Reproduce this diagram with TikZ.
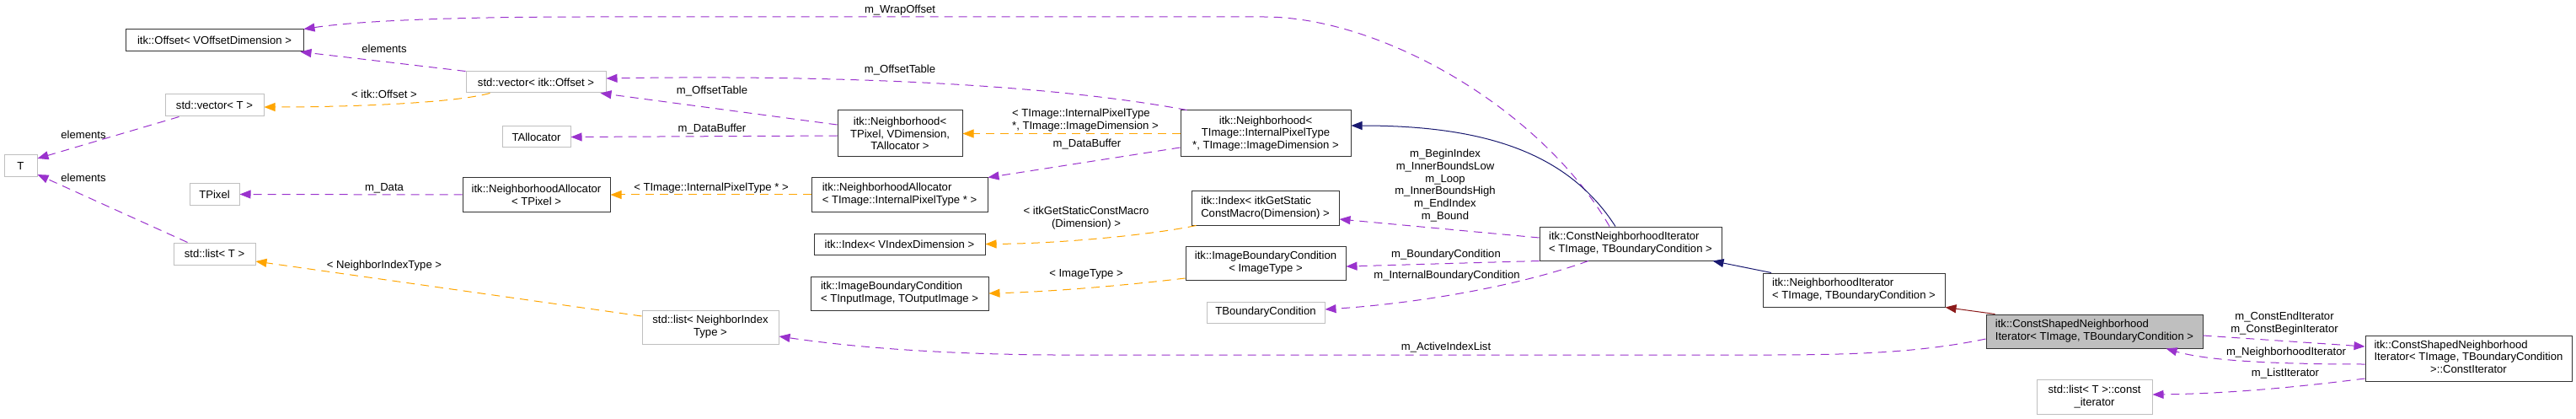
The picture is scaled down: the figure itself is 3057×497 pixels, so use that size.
\documentclass[tikz,border=0pt]{standalone}
\usepackage{fontspec}
\setmainfont{Liberation Sans}
\usepackage{tikz}
\usetikzlibrary{arrows.meta}
\definecolor{edgeuse}{HTML}{9A32CD}
\definecolor{edgetpl}{HTML}{FFA500}
\definecolor{edgeinh}{HTML}{191970}
\definecolor{edgepriv}{HTML}{8B1A1A}
\definecolor{extgray}{HTML}{BFBFBF}
\newcommand{\dxfont}{\fontsize{13.1}{14.8}\selectfont}

\begin{document}
\begin{tikzpicture}[x=1pt,y=-1pt,
    cls/.style={draw=black!80,line width=1pt,fill=white,font=\dxfont,inner sep=0pt},
    ext/.style={draw=extgray,line width=1pt,fill=white,font=\dxfont,inner sep=0pt},
    cur/.style={cls,fill=extgray},
    sz/.style 2 args={minimum width=#1,minimum height=#2},
    lbl/.style={font=\dxfont,inner sep=0pt,align=center},
    usage/.style={edgeuse,line width=1pt,dash pattern=on 10pt off 7pt,-{Triangle[length=13pt,width=10pt]}},
    tmpl/.style={usage,edgetpl},
    inherit/.style={edgeinh,line width=1pt,-{Triangle[length=13pt,width=10pt]}}]
    \useasboundingbox (0,0) rectangle (3057,497);
    % ===== left columns =====
    \node[cls,sz={211pt}{26pt}] (offset) at (254.5,48) {itk::Offset< VOffsetDimension >};
    \node[ext,sz={117pt}{26pt}] (vect) at (254.5,125) {std::vector< T >};
    \node[ext,sz={39pt}{26pt}] (tT) at (24.5,197) {T};
    \node[ext,sz={59pt}{25pt}] (tpixel) at (254.5,230.5) {TPixel};
    \node[ext,sz={97pt}{26pt}] (listT) at (254.5,301) {std::list< T >};
    \node[ext,sz={166pt}{25pt}] (vecoff) at (636,97.5) {std::vector< itk::Offset >};
    \node[ext,sz={81pt}{25pt}] (talloc) at (636.5,162.5) {TAllocator};
    \node[cls,sz={175pt}{40pt},align=center] (nalloc) at (636.5,231) {itk::NeighborhoodAllocator\\< TPixel >};
    \node[ext,sz={162pt}{40pt},align=center] (listnit) at (843,388) {std::list< NeighborIndex\\Type >};
    % ===== middle columns =====
    \node[cls,sz={148pt}{55pt},align=center] (nbhd) at (1068,158.5) {itk::Neighborhood<\\TPixel, VDimension,\\TAllocator >};
    \node[cls,sz={209pt}{40pt},align=left] (nallocint) at (1067.5,231) {itk::NeighborhoodAllocator\\< TImage::InternalPixelType * >};
    \node[cls,sz={203pt}{25pt}] (idxvec) at (1067.5,289.5) {itk::Index< VIndexDimension >};
    \node[cls,sz={211pt}{40pt},align=left] (ibcin) at (1067.5,348) {itk::ImageBoundaryCondition\\< TInputImage, TOutputImage >};
    \node[cls,sz={202pt}{55pt},align=center] (nbhdint) at (1502,158.5) {itk::Neighborhood<\\TImage::InternalPixelType\\*, TImage::ImageDimension >};
    \node[cls,sz={175pt}{40pt},align=left] (idxstat) at (1501.5,247) {itk::Index< itkGetStatic\\ConstMacro(Dimension) >};
    \node[cls,sz={190pt}{40pt},align=center] (ibcimg) at (1502,312) {itk::ImageBoundaryCondition\\< ImageType >};
    \node[ext,sz={140pt}{25pt}] (tbc) at (1502,370.5) {TBoundaryCondition};
    % ===== iterators =====
    \node[cls,sz={216pt}{40pt},align=left] (cnit) at (1935,289) {itk::ConstNeighborhoodIterator\\< TImage, TBoundaryCondition >};
    \node[cls,sz={216pt}{40pt},align=left] (nit) at (2200,344) {itk::NeighborhoodIterator\\< TImage, TBoundaryCondition >};
    \node[cur,sz={257pt}{40pt},align=left] (csnit) at (2485.5,393) {itk::ConstShapedNeighborhood\\Iterator< TImage, TBoundaryCondition >};
    \node[ext,sz={137pt}{41pt},align=center] (listcit) at (2485.5,470.5) {std::list< T >::const\\\_iterator};
    \node[cls,sz={245pt}{54pt}] (cit) at (2929.5,425) {\begin{tabular}{@{}l@{}}itk::ConstShapedNeighborhood\\Iterator< TImage, TBoundaryCondition\\\multicolumn{1}{@{}c@{}}{>::ConstIterator}\end{tabular}};
    % ===== connectors =====
    \draw[usage] ([xshift=-25pt]cnit.north) .. controls (1830,130) and (1640,20) .. (1500,20) -- (700,20) .. controls (550,20) and (430,24) .. (offset.north east);
    \draw[inherit] ([xshift=-18pt]cnit.north) .. controls (1860,180) and (1760,149) .. ([yshift=9.5pt]nbhdint.east);
    \draw[usage] ([xshift=8pt]nbhdint.north west) .. controls (1200,92) and (900,90) .. ([yshift=4.5pt]vecoff.east);
    \draw[usage] ([yshift=10.5pt]nbhd.west) -- ([xshift=-7pt]vecoff.south east);
    \draw[usage] ([yshift=-2.5pt]nbhd.west) -- (talloc.east);
    \draw[usage] (vecoff.north west) -- ([xshift=-4pt]offset.south east);
    \draw[tmpl] ([xshift=29pt]vecoff.south west) .. controls (540,122) and (420,127) .. ([yshift=-2pt]vect.east);
    \draw[usage] ([xshift=17pt]vect.south west) -- ([yshift=9pt]tT.east);
    \draw[usage] ([xshift=17pt]listT.north west) -- ([yshift=-10pt]tT.east);
    \draw[usage] (nalloc.west) -- (tpixel.east);
    \draw[tmpl] (nallocint.west) -- (nalloc.east);
    \draw[tmpl] (nbhdint.west) -- (nbhd.east);
    \draw[usage] ([yshift=-16.5pt]nbhdint.west) -- (nallocint.north east);
    \draw[tmpl] ([xshift=6pt]idxstat.south west) .. controls (1370,278) and (1260,289) .. (idxvec.east);
    \draw[tmpl] ([yshift=-18pt]ibcimg.west) .. controls (1340,338) and (1250,346) .. (ibcin.east);
    \draw[usage] ([yshift=7pt]cnit.west) -- ([yshift=-13pt]idxstat.east);
    \draw[usage] (cnit.south west) -- ([yshift=-4pt]ibcimg.east);
    \draw[usage] ([xshift=-50pt]cnit.south) .. controls (1800,340) and (1680,360) .. ([yshift=3.5pt]tbc.east);
    \draw[inherit] ([xshift=-98pt]nit.north) -- ([xshift=-11pt]cnit.south east);
    \draw[inherit,edgepriv] ([xshift=11pt]csnit.north west) -- (nit.south east);
    \draw[usage] ([yshift=-9pt]csnit.west) .. controls (2280,418) and (2200,421) .. (2100,421) -- (1250,421) .. controls (1100,420) and (1000,410) .. ([yshift=-11pt]listnit.east);
    \draw[tmpl] ([yshift=13pt]listnit.west) -- ([yshift=-9pt]listT.east);
    \draw[usage] ([yshift=-5pt]csnit.east) -- ([yshift=14pt]cit.west);
    \draw[usage] ([yshift=-7pt]cit.west) .. controls (2700,432) and (2620,428) .. ([xshift=-44pt]csnit.south east);
    \draw[usage] ([yshift=-24pt]cit.west) .. controls (2720,460) and (2640,467) .. ([yshift=2.5pt]listcit.east);
    % ===== labels =====
    \node[lbl] (lwrap) at (1068,12) {m\_WrapOffset};
    \node[lbl] (lelemoff) at (456,58) {elements};
    \node[lbl] (ltableup) at (1068,83) {m\_OffsetTable};
    \node[lbl] (ltablelo) at (845,108) {m\_OffsetTable};
    \node[lbl] (loffset) at (456,112) {< itk::Offset >};
    \node[lbl] (lbufalloc) at (845,153) {m\_DataBuffer};
    \node[lbl] (lelemvec) at (99,160) {elements};
    \node[lbl] (lelemlist) at (99,211) {elements};
    \node[lbl] (ldata) at (456,223) {m\_Data};
    \node[lbl] (lpixptr) at (844,223) {< TImage::InternalPixelType * >};
    \node[lbl,align=left] (lnbhdargs) at (1288,142.5) {< TImage::InternalPixelType\\*, TImage::ImageDimension >};
    \node[lbl] (lbufint) at (1290,171) {m\_DataBuffer};
    \node[lbl] (lstatic) at (1289,259) {< itkGetStaticConstMacro\\(Dimension) >};
    \node[lbl] (limgtype) at (1289,325) {< ImageType >};
    \node[lbl] (lbounds) at (1715,220) {m\_BeginIndex\\m\_InnerBoundsLow\\m\_Loop\\m\_InnerBoundsHigh\\m\_EndIndex\\m\_Bound};
    \node[lbl] (lbc) at (1716,302) {m\_BoundaryCondition};
    \node[lbl] (libc) at (1717,327) {m\_InternalBoundaryCondition};
    \node[lbl] (lactive) at (1716,412) {m\_ActiveIndexList};
    \node[lbl] (lnit) at (456,315) {< NeighborIndexType >};
    \node[lbl] (lconstit) at (2711,384) {m\_ConstEndIterator\\m\_ConstBeginIterator};
    \node[lbl] (lnbhdit) at (2713,418) {m\_NeighborhoodIterator};
    \node[lbl] (llistit) at (2712,443) {m\_ListIterator};
\end{tikzpicture}
\end{document}
